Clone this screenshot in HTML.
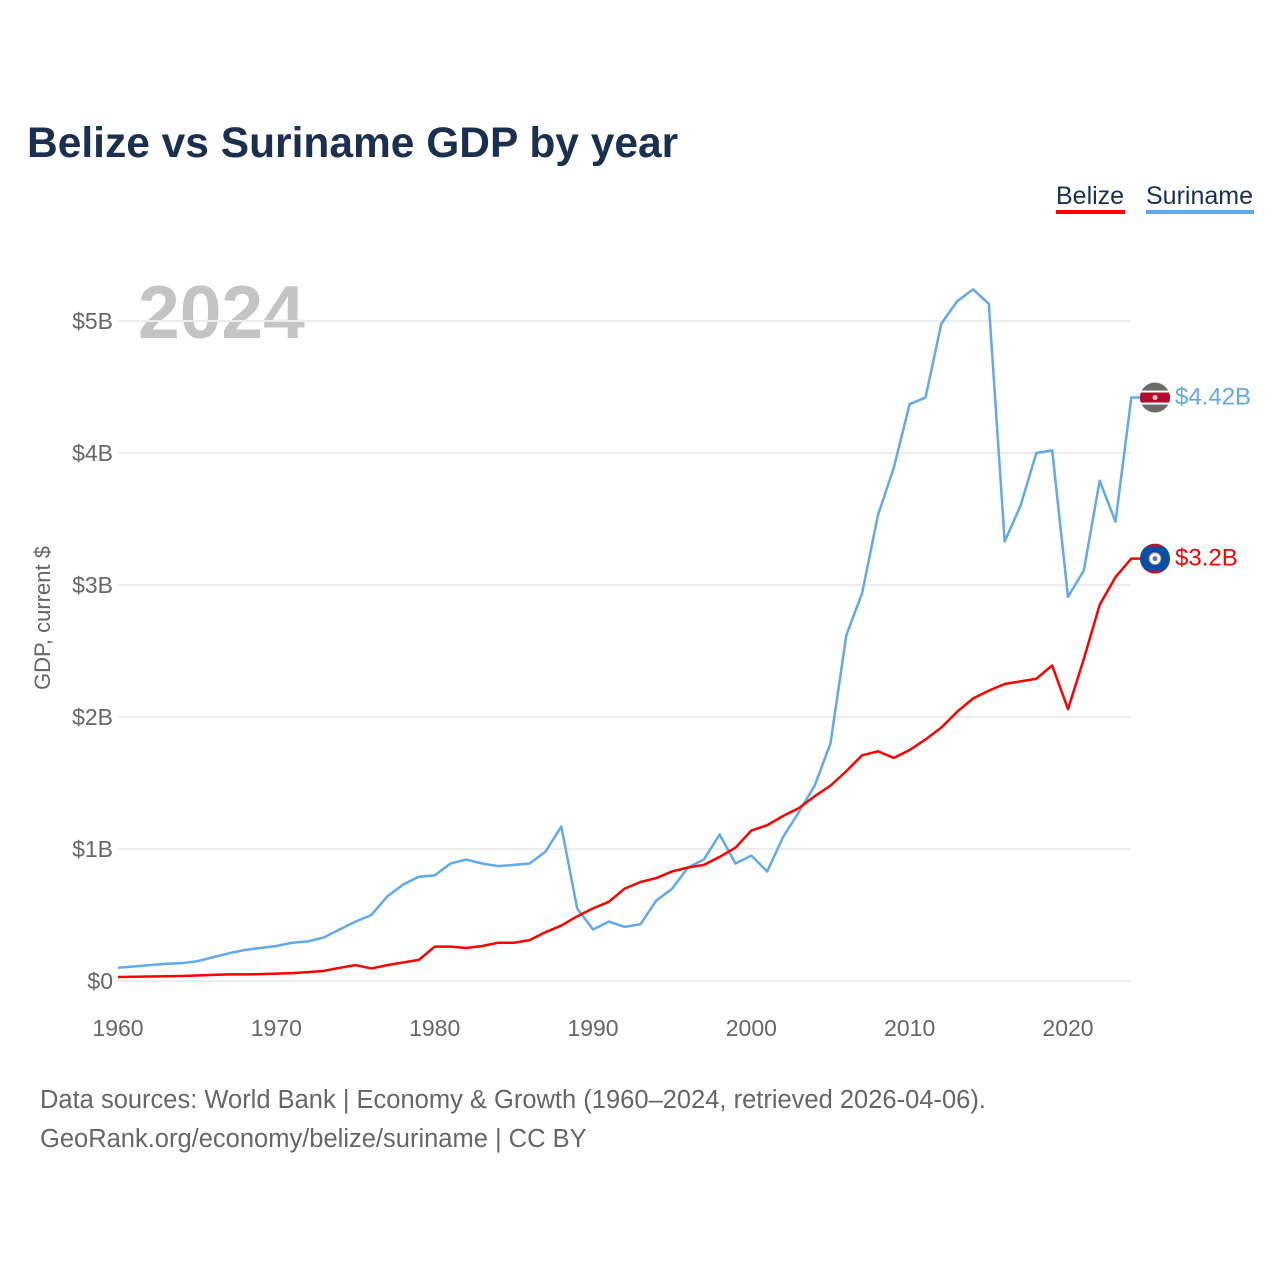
<!DOCTYPE html>
<html><head><meta charset="utf-8"><style>
body{margin:0;background:#fff;font-family:"Liberation Sans",sans-serif;}
#wrap{position:relative;width:1280px;height:1280px;overflow:hidden}
</style></head><body><div id="wrap">
<svg id="chart" width="1280" height="1280">
<defs><clipPath id="cs"><circle cx="1155" cy="397" r="15"/></clipPath><clipPath id="cb"><circle cx="1155" cy="558" r="15"/></clipPath></defs>
<text x="27" y="157" font-size="42.5" font-weight="bold" fill="#1b2f4f">Belize vs Suriname GDP by year</text>
<g>
<text x="1056" y="204" font-size="25" fill="#1b2f4f">Belize</text>
<rect x="1056" y="210" width="69" height="4" fill="#ff0000"/>
<text x="1146" y="204" font-size="25" fill="#1b2f4f">Suriname</text>
<rect x="1146" y="210" width="108" height="4" fill="#62a8ec"/>
</g>
<text x="138" y="338" font-size="75" font-weight="bold" fill="#c4c4c4">2024</text>
<text transform="translate(50,618) rotate(-90)" text-anchor="middle" font-size="22" fill="#666">GDP, current $</text>
<g id="grid"></g><g id="lines"></g><g id="xt"></g>
<text x="40" y="1108" font-size="25.5" fill="#666">Data sources: World Bank | Economy &amp; Growth (1960–2024, retrieved 2026-04-06).</text>
<text x="40" y="1147" font-size="25.5" fill="#666">GeoRank.org/economy/belize/suriname | CC BY</text>
</svg></div>
<script>
const years=[];for(let y=1960;y<=2024;y++)years.push(y);
const suriname=[0.10,0.11,0.12,0.13,0.135,0.15,0.18,0.21,0.235,0.25,0.265,0.29,0.30,0.33,0.39,0.45,0.50,0.64,0.73,0.79,0.80,0.89,0.92,0.89,0.87,0.88,0.89,0.98,1.17,0.55,0.39,0.45,0.41,0.43,0.61,0.70,0.86,0.92,1.11,0.89,0.95,0.83,1.09,1.28,1.48,1.80,2.62,2.94,3.53,3.89,4.37,4.42,4.98,5.15,5.24,5.13,3.33,3.60,4.00,4.02,2.91,3.11,3.79,3.48,4.42];
const belize=[0.03,0.032,0.034,0.036,0.038,0.042,0.046,0.05,0.05,0.052,0.056,0.06,0.067,0.077,0.10,0.12,0.095,0.12,0.14,0.16,0.26,0.26,0.25,0.265,0.29,0.29,0.31,0.37,0.42,0.49,0.55,0.60,0.70,0.75,0.78,0.83,0.86,0.88,0.94,1.01,1.14,1.18,1.25,1.31,1.40,1.48,1.59,1.71,1.74,1.69,1.75,1.83,1.92,2.04,2.14,2.20,2.25,2.27,2.29,2.39,2.06,2.44,2.85,3.06,3.20];
const yTicks=[0,1,2,3,4,5];
const yTickLabels=["$0","$1B","$2B","$3B","$4B","$5B"];
const xTicks=[1960,1970,1980,1990,2000,2010,2020];
const NS="http://www.w3.org/2000/svg";
const X=y=>118+(y-1960)*950/60, Y=v=>981-v*132;
function mk(t,a,p){const e=document.createElementNS(NS,t);for(const k in a)e.setAttribute(k,a[k]);p.appendChild(e);return e;}
const g=document.getElementById('grid'),L=document.getElementById('lines'),xt=document.getElementById('xt');
yTicks.forEach((v,i)=>{
 const l=mk('line',{x1:118,x2:1131,y1:Y(v),y2:Y(v),stroke:'#ececec','stroke-width':2},g);
 
 
 const t=mk('text',{x:113,y:Y(v)+8,'text-anchor':'end','font-size':23,fill:'#666'},g);t.textContent=yTickLabels[i];
 
 
});
xTicks.forEach(v=>{
 const t=mk('text',{x:X(v),y:1036,'text-anchor':'middle','font-size':23,fill:'#666'},xt);t.textContent=v;
 
 
});
function line(data,color,name){
 const pts=data.map((v,i)=>X(years[i])+','+Y(v));
 const last=data[data.length-1];
 pts.push((X(2024)+9)+','+Y(last));
 const p=mk('polyline',{points:pts.join(' '),fill:'none',stroke:color,'stroke-width':2.5,'stroke-linejoin':'round'},L);
 
 
 return Y(last);
}
const ys=line(suriname,'#62a8ec','suriname');
const yb=line(belize,'#ff0000','belize');
document.querySelector('#cs circle').setAttribute('cy',ys);
document.querySelector('#cb circle').setAttribute('cy',yb);
let f=mk('g',{'clip-path':'url(#cs)'},L);


mk('rect',{x:1140,y:ys-15,width:30,height:30,fill:'#6b6b68'},f);
mk('rect',{x:1140,y:ys-7,width:30,height:2,fill:'#fff'},f);
mk('rect',{x:1140,y:ys-5,width:30,height:10,fill:'#b40a2d'},f);
mk('rect',{x:1140,y:ys+5,width:30,height:2,fill:'#fff'},f);
mk('circle',{cx:1155,cy:ys,r:2.5,fill:'#f7c6c6'},f);
let b=mk('g',{'clip-path':'url(#cb)'},L);


mk('rect',{x:1140,y:yb-15,width:30,height:30,fill:'#c8102e'},b);
mk('rect',{x:1140,y:yb-12,width:30,height:24,fill:'#0b4ea2'},b);
mk('circle',{cx:1155,cy:yb,r:6,fill:'#fff',stroke:'#888'},b);
mk('circle',{cx:1155,cy:yb,r:2.5,fill:'#5577aa'},b);
let t1=mk('text',{x:1175,y:ys+7,'font-size':24,fill:'#62a8ec'},L);t1.textContent='$'+suriname[suriname.length-1]+'B';


let t2=mk('text',{x:1175,y:yb+7,'font-size':24,fill:'#ff0000'},L);t2.textContent='$'+belize[belize.length-1].toFixed(1)+'B';


</script></body></html>
